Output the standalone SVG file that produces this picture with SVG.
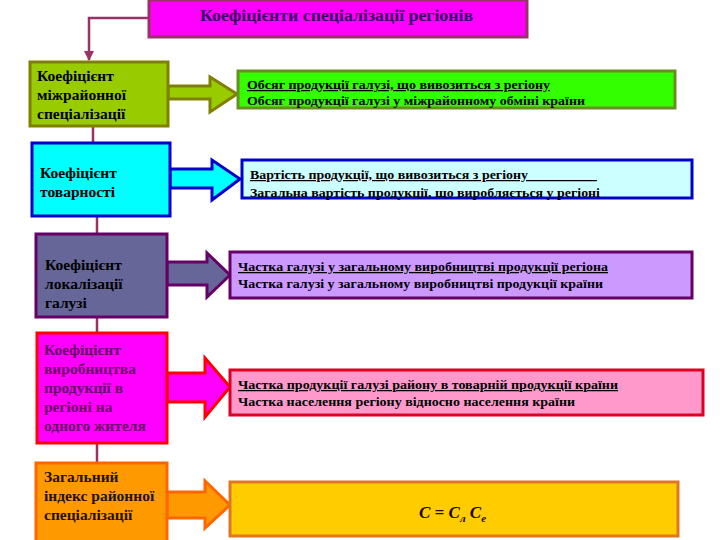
<svg xmlns="http://www.w3.org/2000/svg" width="720" height="540" viewBox="0 0 720 540">
<defs>
<style>
.t{font-family:"Liberation Serif","Times New Roman",serif;font-weight:bold;}
.lt{font-size:15.5px;fill:#000;}
.rt{font-size:12.5px;fill:#000;}
.u{text-decoration:underline;}
.link{fill:none;stroke:#993366;stroke-width:2.5;}
</style>
<marker id="ah" viewBox="0 0 10 10" refX="9" refY="5" markerWidth="4" markerHeight="4" orient="auto">
<path d="M0,0 L10,5 L0,10 z" fill="#993366"/>
</marker>
</defs>
<rect width="720" height="540" fill="#fff"/>

<g id="connectors">
<polyline class="link" points="149,18 89,18 89,60" marker-end="url(#ah)"/>
<line class="link" x1="93" y1="126" x2="93" y2="143"/>
<line class="link" x1="97" y1="216" x2="97" y2="234"/>
<line class="link" x1="97" y1="317" x2="97" y2="333"/>
<line class="link" x1="97" y1="443" x2="97" y2="463"/>
<polygon points="168,86 210,86 210,77 237,94 210,112 210,99 168,99" fill="#99cc00" stroke="#808000" stroke-width="3"/>
<polygon points="170,169 212,169 212,160 240,179 212,200 212,188 170,188" fill="#00ffff" stroke="#0000cc" stroke-width="3"/>
<polygon points="167,262 207,262 207,253 230,275 207,297 207,285 167,285" fill="#666699" stroke="#660066" stroke-width="3"/>
<polygon points="167,373 205,373 205,358 230,387 205,417 205,402 167,402" fill="#ff00ff" stroke="#ff0000" stroke-width="3"/>
<polygon points="167,492 205,492 205,481 230,505 205,528 205,518 167,518" fill="#ff9900" stroke="#ff6600" stroke-width="3"/>
</g>

<g id="title">
<rect x="149" y="0" width="378" height="37" fill="#ff00ff" stroke="#993366" stroke-width="3"/>
<text class="t" x="200" y="21" font-size="16" fill="#330066" textLength="273" lengthAdjust="spacingAndGlyphs">Коефіцієнти спеціалізації регіонів</text>
</g>

<g id="k1">
<rect x="30" y="62" width="138" height="64" fill="#99cc00" stroke="#808000" stroke-width="3"/>
<text class="t lt" x="37" y="81">Коефіцієнт</text>
<text class="t lt" x="37" y="100">міжрайонної</text>
<text class="t lt" x="37" y="119">спеціалізації</text>
</g>
<g id="f1">
<rect x="238" y="71" width="437" height="37" fill="#33ff00" stroke="#6b8e23" stroke-width="3"/>
<text class="t rt u" x="247" y="89" textLength="303" lengthAdjust="spacingAndGlyphs">Обсяг продукції галузі, що вивозиться з регіону</text>
<text class="t rt" x="247" y="105" textLength="338" lengthAdjust="spacingAndGlyphs">Обсяг продукції галузі у міжрайонному обміні країни</text>
</g>

<g id="k2">
<rect x="32" y="143" width="138" height="73" fill="#00ffff" stroke="#0000cc" stroke-width="3"/>
<text class="t lt" x="40" y="178">Коефіцієнт</text>
<text class="t lt" x="40" y="197">товарності</text>
</g>
<g id="f2">
<rect x="242" y="160" width="450" height="38" fill="#ccffff" stroke="#0000cc" stroke-width="3"/>
<text class="t rt u" x="250" y="179"><tspan textLength="278" lengthAdjust="spacingAndGlyphs">Вартість продукції, що вивозиться з регіону</tspan><tspan>___________</tspan></text>
<text class="t rt" x="250" y="197" textLength="350" lengthAdjust="spacingAndGlyphs">Загальна вартість продукції, що виробляється у регіоні</text>
</g>

<g id="k3">
<rect x="36" y="234" width="131" height="83" fill="#666699" stroke="#660066" stroke-width="3"/>
<text class="t lt" x="45" y="270">Коефіцієнт</text>
<text class="t lt" x="45" y="289">локалізації</text>
<text class="t lt" x="45" y="308">галузі</text>
</g>
<g id="f3">
<rect x="230" y="252" width="462" height="46" fill="#cc99ff" stroke="#660066" stroke-width="3"/>
<text class="t rt u" x="238" y="271" textLength="370" lengthAdjust="spacingAndGlyphs">Частка галузі у загальному виробництві продукції регіона</text>
<text class="t rt" x="238" y="288" textLength="365" lengthAdjust="spacingAndGlyphs">Частка галузі у загальному виробництві продукції країни</text>
</g>

<g id="k4">
<rect x="37" y="333" width="130" height="110" fill="#ff00ff" stroke="#ff0000" stroke-width="3"/>
<text class="t lt" x="44" y="355" style="fill:#660066">Коефіцієнт</text>
<text class="t lt" x="44" y="374" style="fill:#660066">виробництва</text>
<text class="t lt" x="44" y="393" style="fill:#660066">продукції в</text>
<text class="t lt" x="44" y="412" style="fill:#660066">регіоні на</text>
<text class="t lt" x="44" y="431" style="fill:#660066">одного жителя</text>
</g>
<g id="f4">
<rect x="230" y="370" width="473" height="45" fill="#ff99cc" stroke="#dd0022" stroke-width="3"/>
<text class="t rt u" x="238" y="389" textLength="380" lengthAdjust="spacingAndGlyphs">Частка продукції галузі району в товарній продукції країни</text>
<text class="t rt" x="238" y="406" textLength="337" lengthAdjust="spacingAndGlyphs">Частка населення регіону відносно населення країни</text>
</g>

<g id="k5">
<rect x="36" y="463" width="131" height="90" fill="#ff9900" stroke="#ff6600" stroke-width="3"/>
<text class="t lt" x="44" y="482" style="fill:#221100">Загальний</text>
<text class="t lt" x="44" y="501" style="fill:#221100">індекс районної</text>
<text class="t lt" x="44" y="520" style="fill:#221100">спеціалізації</text>
</g>
<g id="f5">
<rect x="230" y="482" width="448" height="54" fill="#ffcc00" stroke="#dd7722" stroke-width="3"/>
<text class="t" x="419" y="518" font-size="17" font-style="italic" fill="#220000">C = C<tspan font-size="11" dy="4">л</tspan><tspan dy="-4"> C</tspan><tspan font-size="11" dy="4">е</tspan></text>
</g>
</svg>
